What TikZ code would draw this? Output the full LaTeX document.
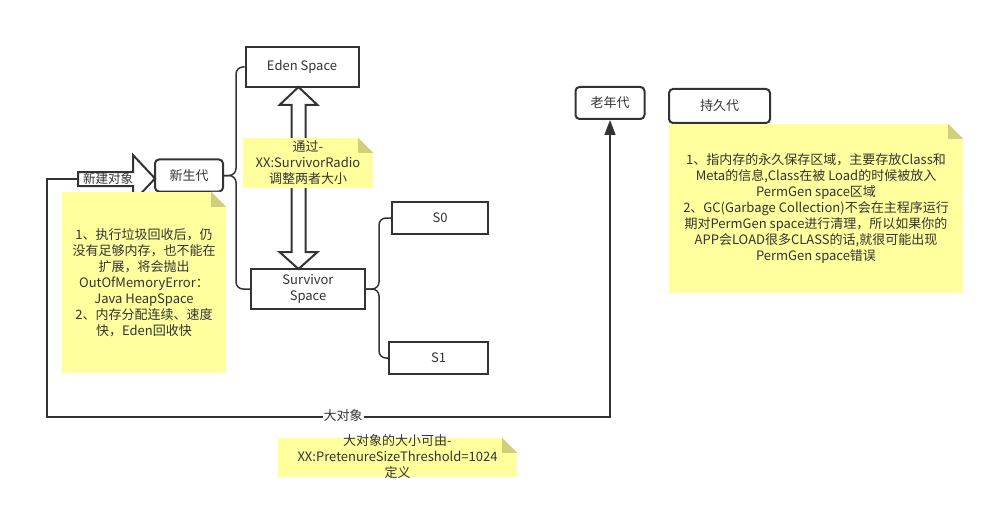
\documentclass[tikz,border=0pt]{standalone}
\usepackage{fontspec}
\setmainfont{Noto Sans CJK SC}
\usetikzlibrary{calc,arrows.meta}
\definecolor{notey}{HTML}{FFFF9E}
\definecolor{notef}{HTML}{D0D07C}
\definecolor{ink}{HTML}{333333}
\tikzset{
 box/.style={draw=ink, line width=2, fill=white, inner sep=0, align=center, font=\fontsize{13}{16.5}\selectfont, text=ink},
 rbox/.style={box, rounded corners=4},
 note/.style={fill=notey, inner sep=0, align=center, font=\fontsize{13}{16}\selectfont, text=ink},
 brace/.style={draw=ink, line width=1.5, rounded corners=7},
 conn/.style={draw=ink, line width=1.5},
 blockarrow/.style={draw=ink, line width=2, fill=white, line join=miter},
}
\newcommand\notefold[1]{%
 \fill[white] (#1.north east) -- ++(-15,0) -- ++(15,15) -- cycle;
 \fill[notef] (#1.north east) ++(-15,0) -- ++(0,15) -- ++(15,0) -- cycle;}
\begin{document}
\begin{tikzpicture}[x=1pt,y=-1pt]
\useasboundingbox (0,0) rectangle (996,508);
% boxes
\node[rbox, minimum width=68, minimum height=32] (xsd) at (189,175.5) {新生代};
\node[box, minimum width=113, minimum height=40] (eden) at (302,67) {Eden Space};
\node[box, minimum width=114, minimum height=40] (surv) at (308,289) {Survivor\\Space};
\node[box, minimum width=96, minimum height=32] (s0) at (440,218) {S0};
\node[box, minimum width=99, minimum height=32] (s1) at (438.5,358) {S1};
\node[rbox, minimum width=69, minimum height=32] (lnd) at (610,103) {老年代};
\node[rbox, minimum width=101, minimum height=34] (cjd) at (719.5,106) {持久代};
% braces
\draw[brace] (eden.west) -| ($(xsd.east)+(12,0)$) -- (xsd.east);
\draw[brace] (surv.west) -| ($(xsd.east)+(12,0)$) -- (xsd.east);
\draw[brace] (s0.west) -| ($(surv.east)+(13,0)$) -- (surv.east);
\draw[brace] (s1.west) -| ($(surv.east)+(13,0)$) -- (surv.east);
% big-object line
\coordinate (nl) at (78,179);
\coordinate (corner) at (47,417);
\draw[conn, -{Triangle[length=15,width=11]}] (nl) -| (corner) -| (lnd.south);
\node[fill=white, inner sep=1, font=\fontsize{13}{15}\selectfont, text=ink] (big) at (343,416) {大对象};
% block arrow new object
\draw[blockarrow] (78,172) -- (133,172) -- (133,155) -- (155,178.5) -- (133,202) -- (133,186) -- (78,186) -- cycle;
\node[inner sep=0, font=\fontsize{12.5}{14}\selectfont, text=ink] (newobj) at (108,179) {新建对象};
% double block arrow
\draw[blockarrow] (298.5,87) -- (317.5,105) -- (305.5,105) -- (305.5,252) -- (317.5,252) -- (298.5,269) -- (279.5,252) -- (291.5,252) -- (291.5,105) -- (279.5,105) -- cycle;
% notes
\node[note, minimum width=164, minimum height=181] (n1) at (144,282.5) {1、执行垃圾回收后，仍\\没有足够内存，也不能在\\扩展，将会抛出\\OutOfMemoryError：\\Java HeapSpace\\2、内存分配连续、速度\\快，Eden回收快};
\notefold{n1}
\node[note, minimum width=130, minimum height=50] (n2) at (308,163) {通过-\\XX:SurvivorRadio\\调整两者大小};
\notefold{n2}
\node[note, minimum width=294, minimum height=169] (n3) at (816,208.5) {1、指内存的永久保存区域，主要存放Class和\\Meta的信息,Class在被 Load的时候被放入\\PermGen space区域\\2、GC(Garbage Collection)不会在主程序运行\\期对PermGen space进行清理，所以如果你的\\APP会LOAD很多CLASS的话,就很可能出现\\PermGen space错误};
\notefold{n3}
\node[note, minimum width=239, minimum height=39] (n4) at (397.5,457.5) {};
\notefold{n4}
\node[inner sep=0, align=center, font=\fontsize{13}{16}\selectfont, text=ink] (n4t) at (397.5,457) {大对象的大小可由-\\XX:PretenureSizeThreshold=1024\\定义};
\end{tikzpicture}
\end{document}
